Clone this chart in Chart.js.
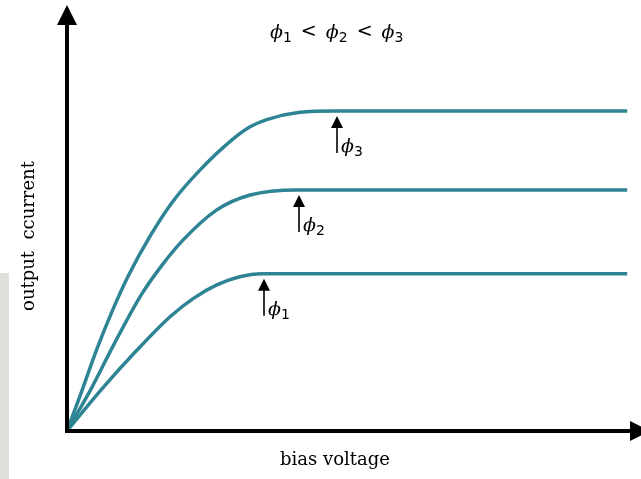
<!DOCTYPE html>
<html>
<head>
<meta charset="utf-8">
<script src="https://cdn.jsdelivr.net/npm/chart.js@4/dist/chart.umd.min.js"></script>
<style>
  html, body { margin: 0; padding: 0; background: #fff; }
  #wrap { width: 641px; height: 479px; position: relative; }
</style>
</head>
<body>
<div id="wrap"><canvas id="chart" width="641" height="479"></canvas></div>
<script>
// bias voltage / output current, arbitrary units
const phi1X = [0, 0.59, 1.22, 1.81, 2.21, 2.61, 3.01, 3.40, 9.76];
const phi1Y = [0, 0.96, 1.90, 2.70, 3.12, 3.43, 3.62, 3.69, 3.69];
const phi2X = [0, 0.42, 0.82, 1.29, 1.66, 2.02, 2.61, 3.19, 4.01, 9.76];
const phi2Y = [0, 0.99, 2.04, 3.19, 3.90, 4.48, 5.19, 5.54, 5.66, 5.66];
const phi3X = [0, 0.24, 0.52, 0.78, 1.06, 1.45, 1.85, 2.32, 2.89, 3.19, 3.48, 4.06, 4.67, 9.76];
const phi3Y = [0, 0.87, 1.92, 2.79, 3.62, 4.58, 5.40, 6.13, 6.85, 7.14, 7.31, 7.48, 7.51, 7.51];

const seriesNames = ['φ1', 'φ2', 'φ3'];
// where the little arrows point (x in data units, tip level matches each curve)
const markerX = [3.43, 4.04, 4.70];

const lineColor = '#2e8494';

function pts(xs, ys) {
  return xs.map((x, i) => ({ x: x, y: ys[i] }));
}

function drawPhi(ctx, x, y, sub, size) {
  ctx.font = 'italic ' + size + 'px "DejaVu Serif"';
  ctx.textBaseline = 'alphabetic';
  ctx.textAlign = 'left';
  ctx.fillText('ϕ', x, y);
  const w = ctx.measureText('ϕ').width;
  ctx.font = Math.round(size * 0.72) + 'px "DejaVu Sans"';
  ctx.fillText(sub, x + w, y + size * 0.2);
  return w + ctx.measureText(sub).width;
}

const axesPlugin = {
  id: 'axesPlugin',
  beforeDraw(chart) {
    const ctx = chart.ctx;
    ctx.save();
    ctx.fillStyle = '#fff';
    ctx.fillRect(0, 0, chart.width, chart.height);
    // grey strip at the left edge
    ctx.fillStyle = '#e1dfda';
    ctx.fillRect(0, 273, 9, chart.height - 273);
    ctx.restore();
  },
  afterDatasetsDraw(chart) {
    const ctx = chart.ctx;
    const xs = chart.scales.x, ys = chart.scales.y;
    const ox = xs.getPixelForValue(0), oy = ys.getPixelForValue(0);
    ctx.save();
    ctx.strokeStyle = '#000';
    ctx.fillStyle = '#000';
    ctx.lineWidth = 4;
    ctx.lineCap = 'butt';
    // y axis
    ctx.beginPath();
    ctx.moveTo(ox, oy + 2);
    ctx.lineTo(ox, 24);
    ctx.stroke();
    ctx.beginPath();
    ctx.moveTo(ox, 5);
    ctx.lineTo(ox - 10, 25);
    ctx.lineTo(ox + 10, 25);
    ctx.closePath();
    ctx.fill();
    // x axis
    ctx.beginPath();
    ctx.moveTo(ox - 2, oy);
    ctx.lineTo(632, oy);
    ctx.stroke();
    ctx.beginPath();
    ctx.moveTo(650, oy);
    ctx.lineTo(630, oy - 10);
    ctx.lineTo(630, oy + 10);
    ctx.closePath();
    ctx.fill();

    // small arrows with phi labels
    chart.data.datasets.forEach((ds, i) => {
      const level = ds.data[ds.data.length - 1].y;
      const px = Math.round(xs.getPixelForValue(markerX[i]));
      const tip = ys.getPixelForValue(level) + 5;
      ctx.lineWidth = 1.6;
      ctx.beginPath();
      ctx.moveTo(px, tip + 8);
      ctx.lineTo(px, tip + 37);
      ctx.stroke();
      ctx.beginPath();
      ctx.moveTo(px, tip);
      ctx.lineTo(px - 6, tip + 12);
      ctx.lineTo(px + 6, tip + 12);
      ctx.closePath();
      ctx.fill();
      drawPhi(ctx, px + 4, tip + 36, String(i + 1), 19);
    });

    // title phi1 < phi2 < phi3
    let tx = 270;
    const ty = 38;
    tx += drawPhi(ctx, tx, ty, '1', 19) + 9;
    ctx.font = '19px "DejaVu Sans"';
    ctx.fillText('<', tx, ty - 1);
    tx += ctx.measureText('<').width + 9;
    tx += drawPhi(ctx, tx, ty, '2', 19) + 9;
    ctx.font = '19px "DejaVu Sans"';
    ctx.fillText('<', tx, ty - 1);
    tx += ctx.measureText('<').width + 9;
    drawPhi(ctx, tx, ty, '3', 19);

    // axis titles
    ctx.font = '18px "DejaVu Serif"';
    ctx.textAlign = 'center';
    ctx.textBaseline = 'middle';
    ctx.fillText('bias voltage', 335, 460);
    ctx.translate(29, 236);
    ctx.rotate(-Math.PI / 2);
    ctx.fillText('output  ccurrent', 0, 0);
    ctx.restore();
  }
};

new Chart(document.getElementById('chart'), {
  type: 'scatter',
  data: {
    datasets: [
      { label: seriesNames[0], data: pts(phi1X, phi1Y) },
      { label: seriesNames[1], data: pts(phi2X, phi2Y) },
      { label: seriesNames[2], data: pts(phi3X, phi3Y) }
    ].map(d => Object.assign(d, {
      showLine: true,
      borderColor: lineColor,
      borderWidth: 3.5,
      pointRadius: 0,
      cubicInterpolationMode: 'monotone',
      fill: false
    }))
  },
  options: {
    responsive: false,
    animation: false,
    layout: { padding: { left: 67, right: 0, top: 5, bottom: 48 } },
    plugins: { legend: { display: false }, tooltip: { enabled: false } },
    scales: {
      x: { type: 'linear', min: 0, max: 10, display: false },
      y: { type: 'linear', min: 0, max: 10, display: false }
    }
  },
  plugins: [axesPlugin]
});
</script>
</body>
</html>
